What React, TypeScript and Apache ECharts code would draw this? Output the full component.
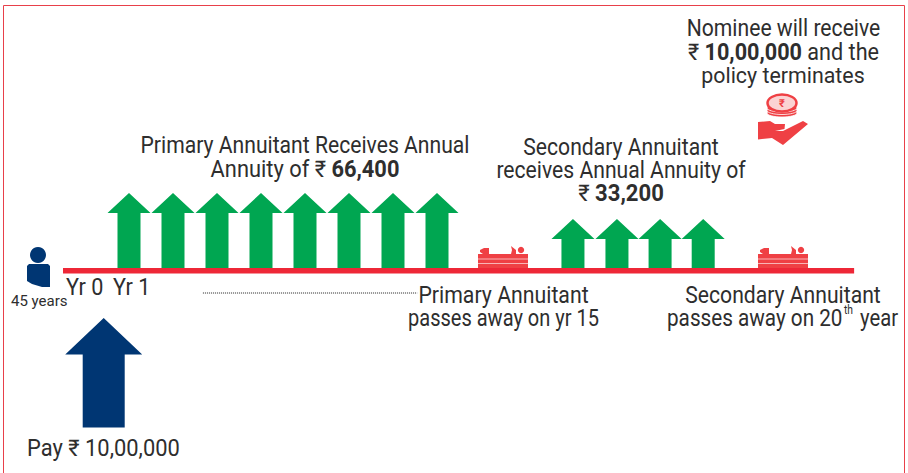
import React, { useEffect, useRef } from "react";
import * as echarts from "echarts";

// Timeline positions are in yearly slots along the line; heights are in drawing units above the line.
const primaryYears = [1, 2, 3, 4, 5, 6, 7, 8];
const primaryTip = 75;
const secondarySlots = [11.09, 12.09, 13.07, 14.05];
const secondaryTip = 49;
const paymentArrow = [[0.425, -50, -159.5]];
const timeline = [[-0.5, -2.75], [17.48, -2.75]];
const dotted = [[2.68, -25], [7.55, -25]];
const tombstones = [478, 758];

const TEXT = "#2e2e2e";
const RED = "#ee2737";
const ICON = "#ef4044";
const GREEN = "#00a651";
const NAVY = "#003673";
const FONT = "Roboto, 'Noto Sans', sans-serif";

type Piece = { x: number; y: number; align: string; parts: [string, boolean][]; size?: number; sx?: number };
const labels: Piece[] = [
  { x: 783.5, y: 28, align: "center", sx: 0.92, parts: [["Nominee will receive", false]] },
  { x: 783.5, y: 52, align: "center", sx: 0.94, parts: [["₹ ", false], ["10,00,000", true], [" and the", false]] },
  { x: 783, y: 75, align: "center", sx: 0.93, parts: [["policy terminates", false]] },
  { x: 305, y: 145, align: "center", sx: 0.92, parts: [["Primary Annuitant Receives Annual", false]] },
  { x: 305, y: 169, align: "center", sx: 0.95, parts: [["Annuity of ₹ ", false], ["66,400", true]] },
  { x: 621, y: 147, align: "center", sx: 0.92, parts: [["Secondary Annuitant", false]] },
  { x: 621, y: 170, align: "center", sx: 0.92, parts: [["receives Annual Annuity of", false]] },
  { x: 621, y: 193, align: "center", sx: 0.96, parts: [["₹ ", false], ["33,200", true]] },
  { x: 66, y: 287, align: "left", sx: 0.94, parts: [["Yr 0", false]] },
  { x: 113, y: 287, align: "left", sx: 0.94, parts: [["Yr 1", false]] },
  { x: 11, y: 301, align: "left", sx: 1.0, parts: [["45 years", false]], size: 15 },
  { x: 503.5, y: 295, align: "center", sx: 0.925, parts: [["Primary Annuitant", false]] },
  { x: 503.5, y: 318, align: "center", sx: 0.87, parts: [["passes away on yr 15", false]] },
  { x: 783, y: 295, align: "center", sx: 0.92, parts: [["Secondary Annuitant", false]] },
  { x: 667, y: 318, align: "left", sx: 0.9, parts: [["passes away on 20", false]] },
  { x: 844, y: 310, align: "left", sx: 0.86, parts: [["th", false]], size: 12 },
  { x: 860, y: 318, align: "left", sx: 0.88, parts: [["year", false]] },
  { x: 27, y: 448, align: "left", sx: 0.953, parts: [["Pay ₹ 10,00,000", false]] },
];

const arrowItem = (halfShaft: number, halfHead: number, headLen: number) => (_: any, api: any) => {
  const [cx, tip] = api.coord([api.value(0), api.value(1)]);
  const [, base] = api.coord([api.value(0), api.value(2)]);
  return {
    type: "polygon",
    shape: {
      points: [
        [cx, tip],
        [cx + halfHead, tip + headLen],
        [cx + halfShaft, tip + headLen],
        [cx + halfShaft, base],
        [cx - halfShaft, base],
        [cx - halfShaft, tip + headLen],
        [cx - halfHead, tip + headLen],
      ],
    },
    style: { fill: api.visual("color") },
  };
};

const tombstone = (x: number) => ({
  type: "group",
  x,
  y: 0,
  children: [
    { type: "rect", shape: { x: 0, y: 254, width: 50, height: 14 }, style: { fill: ICON } },
    { type: "rect", shape: { x: 0, y: 258.5, width: 50, height: 1 }, style: { fill: "#f9b4b5" } },
    { type: "rect", shape: { x: 0, y: 263, width: 50, height: 1 }, style: { fill: "#f9b4b5" } },
    { type: "polygon", shape: { points: [[2, 250], [6, 248], [11, 248], [11, 254], [5, 254], [2, 252]] }, style: { fill: ICON } },
    { type: "polygon", shape: { points: [[33, 246], [38, 250], [38, 254], [33, 254], [34, 250]] }, style: { fill: ICON } },
    { type: "circle", shape: { cx: 43, cy: 250, r: 3.2 }, style: { fill: ICON } },
  ],
});

export default function App() {
  const ref = useRef<HTMLDivElement>(null);
  useEffect(() => {
    const chart = echarts.init(ref.current!, undefined, { renderer: "svg" });
    const textEls = labels.map((l) => ({
      type: "text",
      x: l.x,
      y: l.y,
      scaleX: l.sx ?? 0.9,
      z: 20,
      style: {
        text: l.parts.map(([t, b]) => `{${b ? "b" : "n"}|${t}}`).join(""),
        align: l.align,
        verticalAlign: "middle",
        rich: {
          n: { fontFamily: FONT, fontSize: l.size ?? 23, fill: TEXT, fontWeight: 400 },
          b: { fontFamily: FONT, fontSize: l.size ?? 23, fill: TEXT, fontWeight: 700 },
        },
      },
    }));
    chart.setOption({
      animation: false,
      backgroundColor: "#ffffff",
      grid: { left: 0, right: 0, top: 0, bottom: 0 },
      xAxis: { type: "value", min: -85 / 44, max: (908 - 85) / 44, show: false },
      yAxis: { type: "value", min: -205, max: 268, show: false },
      series: [
        {
          type: "custom",
          name: "Primary annuity",
          itemStyle: { color: GREEN },
          renderItem: arrowItem(11.5, 21.5, 20),
          data: primaryYears.map((y) => [y, primaryTip, 0]),
        },
        {
          type: "custom",
          name: "Secondary annuity",
          itemStyle: { color: GREEN },
          renderItem: arrowItem(11.5, 21.5, 20),
          data: secondarySlots.map((y) => [y, secondaryTip, 0]),
        },
        {
          type: "custom",
          name: "Payment",
          itemStyle: { color: NAVY },
          renderItem: arrowItem(21, 38.5, 36.5),
          data: paymentArrow,
        },
        {
          type: "line",
          name: "Timeline",
          symbol: "none",
          lineStyle: { color: RED, width: 5.5, cap: "butt" },
          data: timeline,
          z: 5,
        },
        {
          type: "line",
          name: "Gap",
          symbol: "none",
          lineStyle: { color: "#222222", width: 1, type: [1, 1] },
          data: dotted,
        },
      ],
      graphic: [
        { type: "polyline", shape: { points: [[3.5, 473], [3.5, 5.5], [904.5, 5.5], [904.5, 473]] }, style: { stroke: "#e8404a", lineWidth: 1, fill: "none" } },
        { type: "circle", shape: { cx: 38, cy: 255, r: 8 }, style: { fill: NAVY } },
        { type: "polygon", shape: { points: [[29, 264], [48, 264], [50, 266], [50, 287], [42, 287], [32, 284], [27, 281], [27, 266]] }, style: { fill: NAVY } },
        ...tombstones.map(tombstone),
        { type: "polygon", shape: { points: [[758, 122], [770, 121], [775, 124], [785, 124], [784.5, 129], [775, 131], [783, 131], [803, 121], [808, 124], [783, 145], [772, 138], [758, 139.5]] }, style: { fill: ICON } },
        ...[113, 110.5, 108].map((cy) => ({ type: "ellipse", shape: { cx: 782, cy, rx: 15, ry: 4 }, style: { fill: ICON, stroke: "#fff", lineWidth: 0.8 } })),
        { type: "ellipse", shape: { cx: 782, cy: 103, rx: 14.5, ry: 8.5 }, style: { fill: "#fbd3d3", stroke: ICON, lineWidth: 2.5 } },
        { type: "text", x: 782, y: 103, style: { text: "₹", align: "center", verticalAlign: "middle", fontFamily: FONT, fontSize: 11, fontWeight: 700, fill: ICON } },
        ...textEls,
      ],
    });
    return () => chart.dispose();
  }, []);
  return <div ref={ref} style={{ position: "fixed", left: 0, top: 0, width: 908, height: 473 }} />;
}
